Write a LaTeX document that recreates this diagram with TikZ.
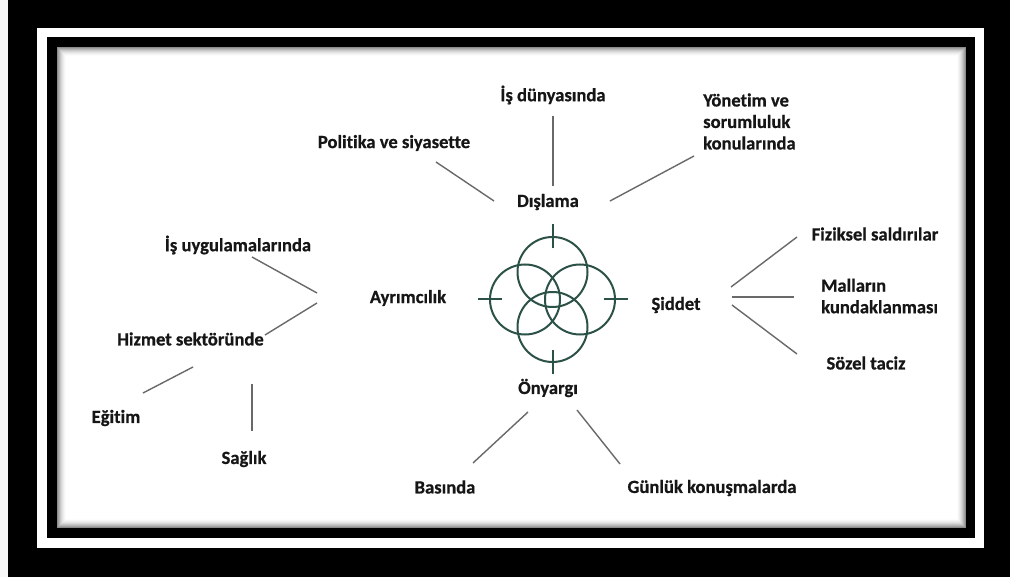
\documentclass[tikz,border=0pt]{standalone}
\usepackage{fontspec}
\setmainfont{Carlito}[Ligatures=NoCommon, BoldFeatures={FakeBold=0.6}]
\usetikzlibrary{calc}
\definecolor{ringgreen}{RGB}{44,82,72}
\definecolor{linkgray}{RGB}{105,105,105}
\definecolor{labelblack}{RGB}{22,22,22}
\tikzset{
	lbl/.style={font=\bfseries\fontsize{18.6}{21.5}\selectfont, text=labelblack, inner sep=0pt},
	link/.style={draw=linkgray, line width=1.4pt},
	ring/.style={draw=ringgreen, line width=2pt}
}

\begin{document}
\begin{tikzpicture}[x=1pt, y=-1pt]
		%%%%% START %%%%%
		
		\useasboundingbox (0, 0) rectangle (1010, 577);
		\fill[black] (0, 0) rectangle (1010, 577);
		\fill[black!3] (0, 0) rectangle (8, 577);
		\fill[white] (37, 28) rectangle (984, 548);
		\fill[black] (46.7, 37.3) rectangle (975, 538);
		\fill[white] (56.7, 47) rectangle (965.7, 528);
		\foreach \k [evaluate=\k as \g using int((11-\k)*(11-\k)/2.2)] in {1,...,10}
			\draw[line width=1pt, black!\g] (56.2+\k, 46.5+\k) rectangle (966.2-\k, 528.5-\k);
		
		%% rings
		\coordinate (ctr) at (552.5, 299.5);
		\foreach \a in {0, 90, 180, 270} {
			\draw[ring] ($(ctr)+(\a:27.5)$) circle (35pt);
			\draw[ring] ($(ctr)+(\a:51)$) -- ($(ctr)+(\a:75)$);
		}
		
		%% main labels
		\node[lbl] (dis) at (548, 202) {Dışlama};
		\node[lbl] (ayr) at (408, 298) {Ayrımcılık};
		\node[lbl] (sid) at (676, 305) {Şiddet};
		\node[lbl] (ony) at (548, 388) {Önyargı};
		
		\node[lbl] (isdun) at (553, 95) {İş dünyasında};
		\node[lbl] (pol) at (394, 143) {Politika ve siyasette};
		\node[lbl, anchor=west, align=left] (yon) at (703, 121.5) {Yönetim ve\\sorumluluk\\konularında};
		
		\node[lbl] (fiz) at (875, 234) {Fiziksel saldırılar};
		\node[lbl, anchor=west, align=left] (mal) at (821, 296) {Malların\\kundaklanması};
		\node[lbl] (soz) at (866, 363) {Sözel taciz};
		
		\node[lbl] (isuyg) at (238, 245) {İş uygulamalarında};
		\node[lbl] (hiz) at (190.5, 339) {Hizmet sektöründe};
		\node[lbl] (egi) at (116, 418) {Eğitim};
		\node[lbl] (sag) at (244, 459) {Sağlık};
		
		\node[lbl] (bas) at (445, 487) {Basında};
		\node[lbl] (gun) at (712, 488) {Günlük konuşmalarda};
		
		%% line ends
		\coordinate (isdun-a) at (553, 116);   \coordinate (isdun-b) at (553, 186);
		\coordinate (pol-a) at (436, 162);     \coordinate (pol-b) at (494, 201);
		\coordinate (yon-a) at (694, 156);     \coordinate (yon-b) at (610, 201);
		\coordinate (fiz-a) at (731, 287);     \coordinate (fiz-b) at (797, 237);
		\coordinate (mal-a) at (732, 297);     \coordinate (mal-b) at (794, 297);
		\coordinate (soz-a) at (732, 305);     \coordinate (soz-b) at (797, 354);
		\coordinate (isuyg-a) at (252, 257);   \coordinate (isuyg-b) at (317, 293);
		\coordinate (hiz-a) at (317, 303);     \coordinate (hiz-b) at (265, 335);
		\coordinate (egi-a) at (193, 367);     \coordinate (egi-b) at (143, 393);
		\coordinate (sag-a) at (252, 384);     \coordinate (sag-b) at (252, 431);
		\coordinate (bas-a) at (528, 412);     \coordinate (bas-b) at (473, 463);
		\coordinate (gun-a) at (577, 410);     \coordinate (gun-b) at (620, 464);
		
		\foreach \n in {isdun, pol, yon, fiz, mal, soz, isuyg, hiz, egi, sag, bas, gun}
			\draw[link] (\n-a) -- (\n-b);
		
		%%%%% END %%%%%
\end{tikzpicture}
\end{document}
